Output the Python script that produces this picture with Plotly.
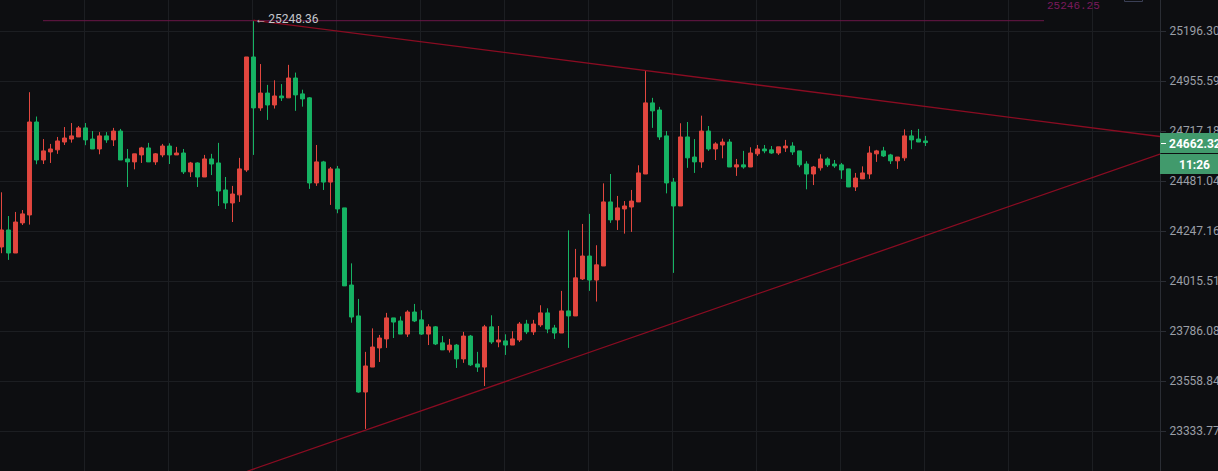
import plotly.graph_objects as go

BG = '#0d0e11'
GRID = '#1c1e22'
UP = '#e2473f'
DOWN = '#16b364'
TREND = '#8a0c22'
LABEL_GREEN = '#419a6c'

opens = [24173, 24252, 24145, 24285, 24322, 24760, 24580, 24618, 24628, 24665,
         24679, 24689, 24732, 24679, 24632, 24694, 24675, 24717, 24585, 24571,
         24604, 24637, 24571, 24604, 24646, 24604, 24613, 24524, 24566, 24500,
         24585, 24566, 24439, 24378, 24416, 24533, 25071, 24827, 24898, 24841,
         24884, 24875, 24970, 24894, 24875, 24472, 24571, 24476, 24538, 24355,
         23997, 23855, 23509, 23622, 23709, 23750, 23846, 23832, 23772, 23873,
         23837, 23772, 23805, 23732, 23700, 23722, 23659, 23763, 23636, 23622,
         23805, 23736, 23741, 23722, 23745, 23818, 23782, 23814, 23869, 23800,
         23777, 23878, 23855, 24025, 24131, 24020, 24085, 24383, 24299, 24350,
         24359, 24383, 24514, 24851, 24817, 24694, 24476, 24364, 24689, 24594,
         24571, 24717, 24632, 24651, 24665, 24547, 24557, 24547, 24609, 24632,
         24628, 24613, 24637, 24646, 24623, 24561, 24514, 24543, 24585, 24561,
         24557, 24538, 24453, 24491, 24514, 24609, 24623, 24604, 24576, 24590,
         24694, 24679, 24670]
highs = [24428, 24317, 24336, 24345, 24902, 24786, 24679, 24656, 24689, 24736,
         24755, 24741, 24755, 24717, 24712, 24712, 24732, 24727, 24632, 24609,
         24642, 24661, 24613, 24656, 24659, 24642, 24632, 24571, 24569, 24604,
         24609, 24661, 24500, 24458, 24590, 25071, 25248.36, 25037, 24937, 24959,
         24941, 25033, 24996, 24914, 24879, 24651, 24576, 24547, 24552, 24355,
         24097, 23933, 23691, 23798, 23768, 23869, 23846, 23853, 23881, 23910,
         23881, 23817, 23809, 23763, 23750, 23727, 23782, 23768, 23691, 23814,
         23858, 23809, 23771, 23785, 23827, 23837, 23837, 23904, 23890, 23814,
         23970, 24250, 24164, 24280, 24327, 24181, 24470, 24514, 24411, 24387,
         24439, 24555, 25007, 24875, 24832, 24717, 24495, 24754, 24760, 24679,
         24790, 24741, 24664, 24681, 24679, 24585, 24623, 24640, 24651, 24651,
         24646, 24642, 24675, 24664, 24623, 24574, 24552, 24607, 24593, 24580,
         24566, 24538, 24519, 24550, 24645, 24628, 24642, 24609, 24594, 24725,
         24722, 24727, 24694]
lows = [24144, 24113, 24145, 24275, 24277, 24560, 24561, 24566, 24609, 24651,
        24662, 24689, 24650, 24632, 24607, 24661, 24646, 24580, 24453, 24536,
        24566, 24571, 24557, 24593, 24561, 24604, 24514, 24500, 24453, 24500,
        24509, 24364, 24350, 24289, 24383, 24524, 24604, 24813, 24770, 24824,
        24860, 24875, 24813, 24833, 24444, 24458, 24439, 24369, 24330, 23993,
        23824, 23506, 23343, 23622, 23645, 23709, 23754, 23772, 23759, 23827,
        23768, 23722, 23722, 23700, 23688, 23618, 23641, 23627, 23600, 23536,
        23727, 23712, 23677, 23722, 23736, 23772, 23768, 23805, 23776, 23750,
        23777, 23709, 23855, 24020, 23970, 23921, 24085, 24285, 24252, 24235,
        24243, 24383, 24514, 24732, 24675, 24423, 24053, 24364, 24543, 24519,
        24543, 24623, 24580, 24588, 24547, 24505, 24539, 24547, 24599, 24612,
        24609, 24604, 24618, 24604, 24546, 24442, 24462, 24530, 24547, 24543,
        24491, 24453, 24434, 24491, 24491, 24571, 24594, 24561, 24538, 24576,
        24631, 24665, 24646]
closes = [24252, 24145, 24289, 24327, 24760, 24580, 24623, 24632, 24670, 24684,
          24694, 24732, 24675, 24632, 24694, 24675, 24717, 24580, 24571, 24609,
          24637, 24571, 24609, 24646, 24604, 24613, 24524, 24566, 24500, 24585,
          24561, 24434, 24378, 24420, 24538, 25071, 24827, 24898, 24841, 24884,
          24875, 24970, 24889, 24870, 24472, 24571, 24476, 24538, 24350, 23993,
          23850, 23509, 23627, 23713, 23754, 23846, 23827, 23772, 23873, 23832,
          23772, 23805, 23727, 23700, 23722, 23659, 23763, 23632, 23622, 23805,
          23736, 23745, 23722, 23750, 23818, 23782, 23818, 23869, 23795, 23777,
          23878, 23855, 24030, 24131, 24020, 24090, 24383, 24299, 24355, 24364,
          24387, 24519, 24851, 24813, 24689, 24472, 24364, 24689, 24590, 24571,
          24717, 24632, 24656, 24665, 24547, 24557, 24547, 24613, 24632, 24623,
          24613, 24642, 24646, 24618, 24557, 24514, 24547, 24585, 24557, 24552,
          24533, 24453, 24495, 24519, 24613, 24623, 24599, 24576, 24594, 24694,
          24675, 24665, 24662.32]

tick_prices = [25196.30, 24955.59, 24717.18, 24481.04, 24247.16,
               24015.51, 23786.08, 23558.84, 23333.77]
tick_labels = ['25196.30', '24955.59', '24717.18', '24481.04', '24247.16',
               '24015.51', '23786.08', '23558.84', '23333.77']

# trend lines and the horizontal marker line, candle index / price
upper_x = [36, 165.5]
upper_y = [25248.36, 24691]
lower_x = [35.1, 165.5]
lower_y = [23154, 24608]
level_x = [5.93, 148.93]
level_y = [25246.25, 25246.25]

candle_x = list(range(len(opens)))

fig = go.Figure()
fig.add_trace(go.Candlestick(
    x=candle_x, open=opens, high=highs, low=lows, close=closes,
    increasing=dict(line=dict(color=UP, width=1), fillcolor=UP),
    decreasing=dict(line=dict(color=DOWN, width=1), fillcolor=DOWN),
    whiskerwidth=0, hoverinfo='skip', showlegend=False))
fig.add_trace(go.Scatter(x=level_x, y=level_y, mode='lines', line=dict(color='#6b1748', width=1),
                         hoverinfo='skip', showlegend=False))
fig.add_trace(go.Scatter(x=upper_x, y=upper_y, mode='lines', line=dict(color=TREND, width=1.3),
                         hoverinfo='skip', showlegend=False))
fig.add_trace(go.Scatter(x=lower_x, y=lower_y, mode='lines', line=dict(color=TREND, width=1.3),
                         hoverinfo='skip', showlegend=False))

fig.update_layout(
    width=1218, height=471, autosize=False,
    margin=dict(l=0, r=58, t=0, b=0),
    paper_bgcolor=BG, plot_bgcolor=BG,
    showlegend=False, boxgap=0.2,
    font=dict(family='Roboto', size=12, color='#9a9ea6'),
)
fig.update_xaxes(range=[-0.2143, 165.5], tick0=-0.143, dtick=12, showgrid=True, gridcolor=GRID,
                 gridwidth=1, zeroline=False, showticklabels=False, ticks='',
                 rangeslider_visible=False, automargin=False)
fig.update_yaxes(type='log', range=[4.36465, 4.403922], side='right', automargin=False,
                 tickmode='array', tickvals=tick_prices, ticktext=tick_labels,
                 showgrid=True, gridcolor=GRID, gridwidth=1, zeroline=False,
                 showline=True, linecolor='#2a2d34', linewidth=1, mirror=False,
                 ticks='outside', ticklen=5, tickcolor='#2a2d34', tickwidth=1,
                 ticklabeloverflow='allow', ticklabelstandoff=1,
                 tickfont=dict(family='Roboto', size=12, color='#9a9ea6'))

# price box on the axis, in pixels of the paper
px = lambda v: v / 1160
py = lambda v: 1 - v / 471
for top, bottom in [(133, 153), (154, 174)]:
    fig.add_shape(type='rect', xref='paper', yref='paper', x0=px(1160), x1=px(1218),
                  y0=py(bottom), y1=py(top), fillcolor=LABEL_GREEN, line_width=0, layer='above')
fig.add_shape(type='line', xref='paper', yref='paper', x0=px(1161), x1=px(1166),
              y0=py(143.5), y1=py(143.5), line=dict(color='#ffffff', width=1), layer='above')
fig.add_shape(type='rect', xref='paper', yref='paper', x0=px(1124.5), x1=px(1142.5),
              y0=py(1.5), y1=py(-6), line=dict(color='#3a3f55', width=1), layer='above')

fig.add_annotation(x=px(1167), y=py(144), xref='paper', yref='paper', text='<b>24662.32</b>',
                   showarrow=False, xanchor='left', yanchor='middle',
                   font=dict(family='Roboto', size=12, color='#ffffff'))
fig.add_annotation(x=px(1194), y=py(164.5), xref='paper', yref='paper', text='<b>11:26</b>',
                   showarrow=False, xanchor='center', yanchor='middle',
                   font=dict(family='Roboto', size=12, color='#ffffff'))
fig.add_annotation(x=px(253), y=py(19.5), xref='paper', yref='paper', text='←\u200a25248.36',
                   showarrow=False, xanchor='left', yanchor='middle',
                   font=dict(family='Roboto', size=12, color='#c4c6cb'))
fig.add_annotation(x=px(1045), y=py(6.5), xref='paper', yref='paper', text='25246.25',
                   showarrow=False, xanchor='left', yanchor='middle',
                   font=dict(family='Liberation Mono', size=11, color='#7a1a5c'))

fig.write_html("out.html", config=dict(displayModeBar=False),
               post_script="document.body.style.margin='0';document.body.style.background='#0d0e11';")
